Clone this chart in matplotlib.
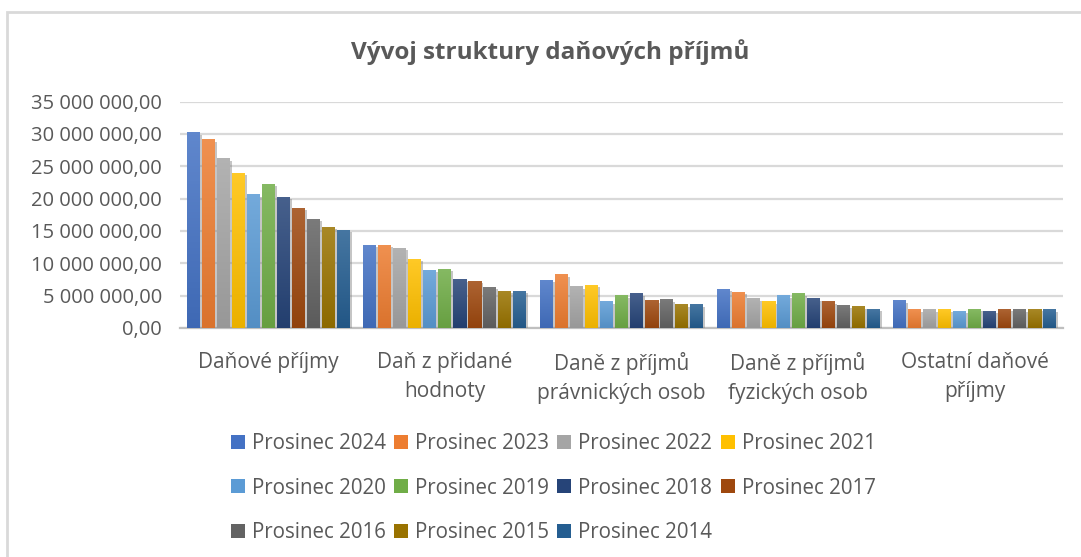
import numpy as np
import matplotlib.pyplot as plt
import matplotlib.patheffects as pe
from matplotlib.colors import to_rgb, LinearSegmentedColormap
from matplotlib.patches import Rectangle, Patch

# --- data ---
categories = ['Daňové příjmy', 'Daň z přidané\nhodnoty', 'Daně z příjmů\nprávnických osob',
              'Daně z příjmů\nfyzických osob', 'Ostatní daňové\npříjmy']
series = ['Prosinec 2024', 'Prosinec 2023', 'Prosinec 2022', 'Prosinec 2021', 'Prosinec 2020',
          'Prosinec 2019', 'Prosinec 2018', 'Prosinec 2017', 'Prosinec 2016', 'Prosinec 2015',
          'Prosinec 2014']
# values in millions CZK, one list per category, order = series
danove_prijmy = [30.2, 29.1, 26.2, 23.9, 20.6, 22.2, 20.2, 18.5, 16.8, 15.6, 15.1]
dph = [12.8, 12.8, 12.3, 10.6, 8.9, 9.1, 7.5, 7.2, 6.3, 5.7, 5.7]
dppo = [7.4, 8.2, 6.4, 6.6, 4.1, 5.0, 5.3, 4.2, 4.4, 3.6, 3.6]
dpfo = [6.0, 5.5, 4.5, 4.1, 5.0, 5.3, 4.5, 4.1, 3.4, 3.3, 2.9]
ostatni = [4.2, 2.8, 2.8, 2.8, 2.6, 2.9, 2.6, 2.9, 2.8, 2.9, 2.8]
yticks = [0, 5e6, 10e6, 15e6, 20e6, 25e6, 30e6, 35e6]

colors = ['#4472C4', '#ED7D31', '#A5A5A5', '#FFC000', '#5B9BD5', '#70AD47',
          '#264478', '#9E480E', '#636363', '#997300', '#255E91']

values = np.array([danove_prijmy, dph, dppo, dpfo, ostatni]) * 1e6  # (cat, series)

TXT = '#595959'
fig = plt.figure(figsize=(10.81, 5.57), dpi=100)
ax = fig.add_axes([180 / 1081, 1 - 328 / 557, 883 / 1081, 226.5 / 557])

x = np.arange(len(categories))
step = 15 / 176.6
width = 13 / 176.6


def mix(c, other, t):
    c = np.array(to_rgb(c))
    return tuple(c * (1 - t) + np.array(other) * t)


grad = np.linspace(0, 1, 64).reshape(-1, 1)
for j, name in enumerate(series):
    bars = ax.bar(x + (j - 5) * step, values[:, j], width, color=colors[j], zorder=3,
                  label=name,
                  path_effects=[pe.SimplePatchShadow(offset=(1.5, -1.5), shadow_rgbFace='#808080', alpha=0.45),
                                pe.Normal()])
    cmap = LinearSegmentedColormap.from_list('g%d' % j, [mix(colors[j], (1, 1, 1), 0.15),
                                                          mix(colors[j], (0, 0, 0), 0.08)])
    for b in bars:
        x0, y0 = b.get_x(), b.get_y()
        ax.imshow(grad, extent=[x0, x0 + b.get_width(), y0, y0 + b.get_height()],
                  aspect='auto', cmap=cmap, origin='upper', zorder=4)

ax.set_xlim(-0.5, len(categories) - 0.5)
ax.set_ylim(0, 35e6)
ax.set_aspect('auto')

ax.set_yticks(yticks)
ax.set_yticklabels([f'{v:,.2f}'.replace(',', ' ').replace('.', ',') for v in yticks],
                   fontsize=14.5, color=TXT, family=['Open Sans', 'DejaVu Sans'])
ax.set_xticks(x)
ax.set_xticklabels(categories, fontsize=15, color=TXT, linespacing=1.5,
                   family=['Open Sans', 'DejaVu Sans'])
ax.tick_params(axis='y', length=0, pad=13)
ax.tick_params(axis='x', length=0, pad=17)

ax.grid(axis='y', color='#d9d9d9', linewidth=1.6, zorder=0)
for s in ['top', 'right', 'left']:
    ax.spines[s].set_visible(False)
ax.spines['bottom'].set_color('#bfbfbf')
ax.spines['bottom'].set_linewidth(1.6)
ax.set_axisbelow(True)

fig.text(550 / 1081, 1 - 52 / 557, 'Vývoj struktury daňových příjmů', ha='center', va='center',
         fontsize=17.5, fontweight='bold', color=TXT, family=['Open Sans', 'DejaVu Sans'])

# legend, filled row by row
handles = [Patch(facecolor=c) for c in colors]
order = [0, 4, 8, 1, 5, 9, 2, 6, 10, 3, 7]
leg = fig.legend([handles[i] for i in order], [series[i] for i in order], ncol=4,
                 loc='upper left', bbox_to_anchor=(231 / 1081, 1 - 433 / 557),
                 frameon=False, prop={'family': ['Open Sans', 'DejaVu Sans'], 'size': 14.8},
                 handlelength=0.68, handleheight=0.68, handletextpad=0.34,
                 columnspacing=0.4, labelspacing=1.15, borderpad=0, borderaxespad=0)
for t in leg.get_texts():
    t.set_color(TXT)

# outer chart border
fig.patches.append(Rectangle((7 / 1081, -0.1), 1.2, 1 - 12 / 557 + 0.1, transform=fig.transFigure,
                             fill=False, edgecolor='#d9d9d9', linewidth=2))

fig.savefig('out.png', dpi=100)
